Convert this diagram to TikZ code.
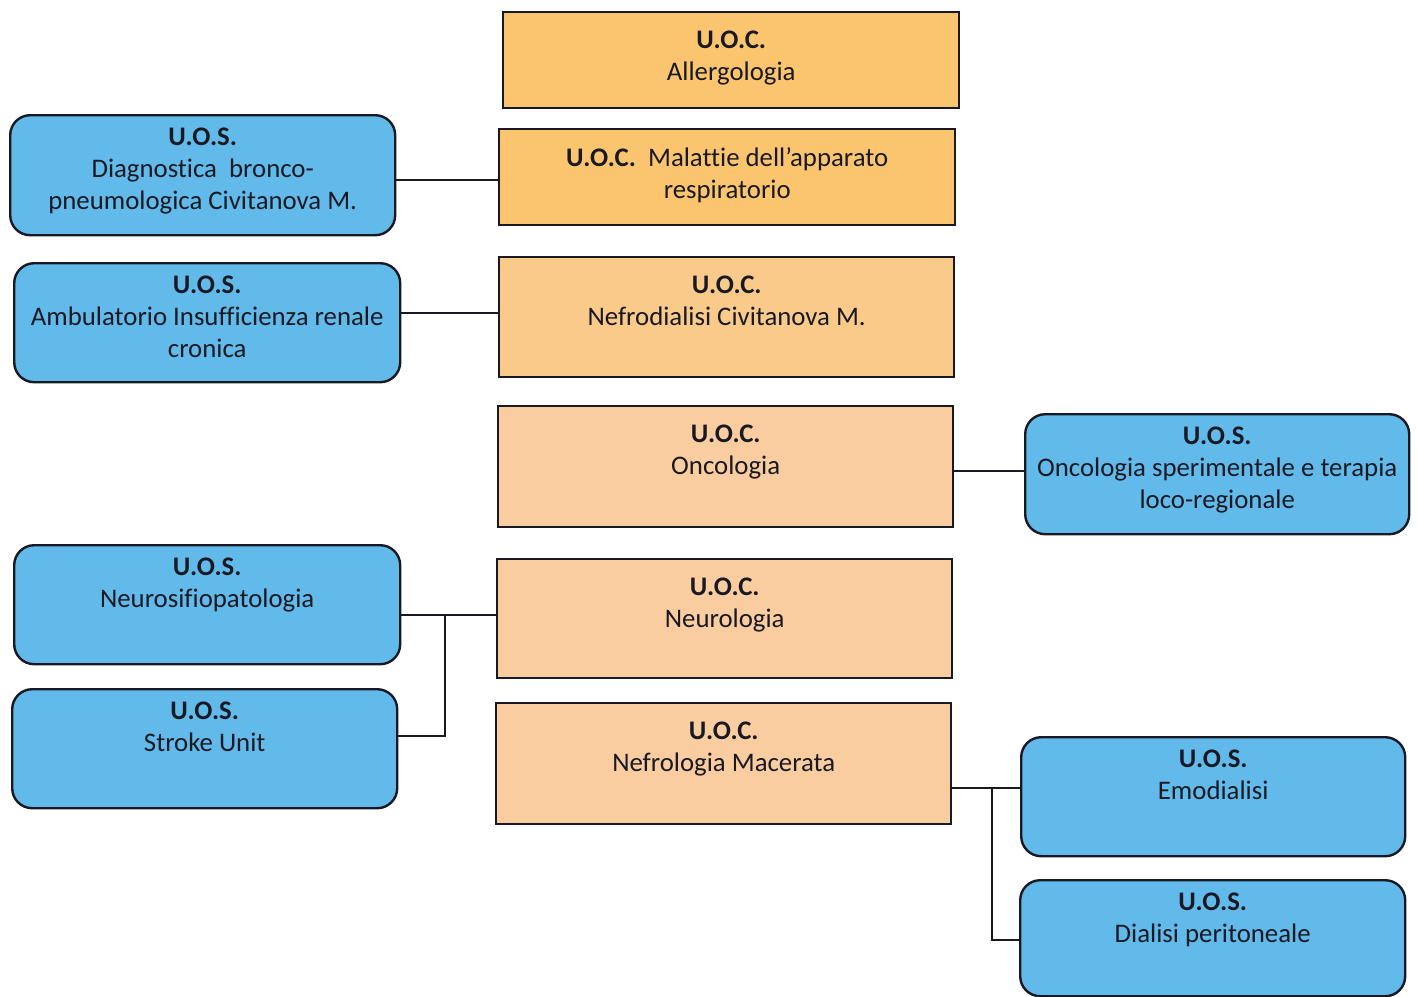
\documentclass[tikz,border=0pt]{standalone}
\usepackage{fontspec}
\setmainfont{Carlito}[Ligatures=NoCommon]
\definecolor{orA}{RGB}{251,197,112}
\definecolor{orB}{RGB}{250,202,138}
\definecolor{orC}{RGB}{249,205,160}
\definecolor{bluA}{RGB}{97,186,233}
\definecolor{ink}{RGB}{25,25,35}
\newcommand{\ocbody}[3]{\parbox[c][#2][t]{#1}{\centering\vspace*{9.3pt}#3}}
\newcommand{\osbody}[3]{\parbox[c][#2][t]{#1}{\centering\vspace*{6.6pt}#3}}
\tikzset{
  ocbox/.style={draw=ink, line width=1.2pt, inner sep=0pt, anchor=north west, text=ink,
    font=\fontsize{13.4}{16}\selectfont},
  osbox/.style={draw=ink, line width=1.2pt, inner sep=0pt, anchor=north west, text=ink,
    rounded corners=10pt, fill=bluA, font=\fontsize{13.4}{16}\selectfont},
  conn/.style={draw=ink, line width=1pt}
}
\begin{document}
\begin{tikzpicture}[x=0.5pt,y=-0.5pt]
\useasboundingbox (0,0) rectangle (1417,996);
% U.O.C. boxes
\node[ocbox, fill=orA] (al) at (502,11) {\ocbody{228pt}{48pt}{\textbf{U.O.C.}\\Allergologia}};
\node[ocbox, fill=orA] (mr) at (498,128) {\ocbody{228pt}{48pt}{\textbf{U.O.C.}\ \ Malattie dell’apparato\\respiratorio}};
\node[ocbox, fill=orB] (nd) at (498,256) {\ocbody{227.5pt}{60pt}{\textbf{U.O.C.}\\Nefrodialisi Civitanova M.}};
\node[ocbox, fill=orC] (on) at (497,405) {\ocbody{227.5pt}{60.5pt}{\textbf{U.O.C.}\\Oncologia}};
\node[ocbox, fill=orC] (ne) at (496,558) {\ocbody{227.5pt}{59.5pt}{\textbf{U.O.C.}\\Neurologia}};
\node[ocbox, fill=orC] (nm) at (495,702) {\ocbody{227.5pt}{60.5pt}{\textbf{U.O.C.}\\Nefrologia Macerata}};
% U.O.S. boxes
\node[osbox] (dg) at (9,114) {\osbody{192.5pt}{60pt}{\textbf{U.O.S.}\\Diagnostica\ \ bronco-\\pneumologica Civitanova M.}};
\node[osbox] (am) at (13,262) {\osbody{193pt}{59.5pt}{\textbf{U.O.S.}\\Ambulatorio Insufficienza renale\\cronica}};
\node[osbox] (os) at (1024,413) {\osbody{192pt}{60pt}{\textbf{U.O.S.}\\Oncologia sperimentale e terapia\\loco-regionale}};
\node[osbox] (ns) at (13,544) {\osbody{193pt}{59.5pt}{\textbf{U.O.S.}\\Neurosifiopatologia}};
\node[osbox] (su) at (11,688) {\osbody{192.5pt}{59.5pt}{\textbf{U.O.S.}\\Stroke Unit}};
\node[osbox] (em) at (1020,736) {\osbody{192pt}{59.5pt}{\textbf{U.O.S.}\\Emodialisi}};
\node[osbox] (dp) at (1019,879) {\osbody{192.5pt}{58pt}{\textbf{U.O.S.}\\Dialisi peritoneale}};
% connector levels
\coordinate (c1) at (446,180);
\coordinate (c2) at (450,313);
\coordinate (c3) at (988,471);
\coordinate (j1) at (445,615);
\coordinate (j1b) at (445,736);
\coordinate (j2) at (992,788);
\coordinate (j2b) at (992,940);
% connectors
\draw[conn] (dg.east |- c1) -- (mr.west |- c1);
\draw[conn] (am.east |- c2) -- (nd.west |- c2);
\draw[conn] (on.east |- c3) -- (os.west |- c3);
\draw[conn] (ns.east |- j1) -- (ne.west |- j1);
\draw[conn] (j1) -- (j1b) -- (su.east |- j1b);
\draw[conn] (nm.east |- j2) -- (em.west |- j2);
\draw[conn] (j2) -- (j2b) -- (dp.west |- j2b);
\end{tikzpicture}
\end{document}
